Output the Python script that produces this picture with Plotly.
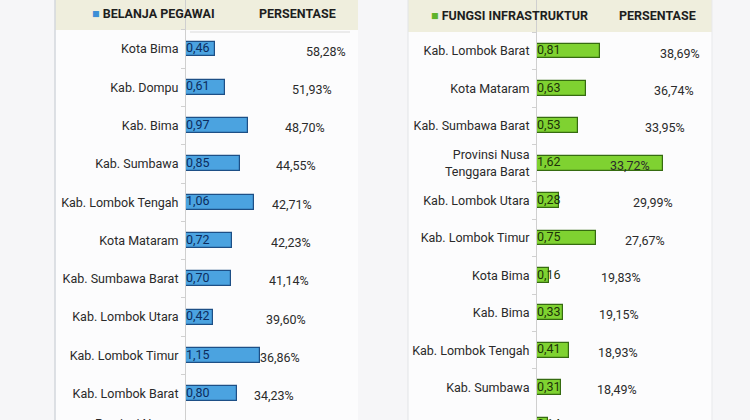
import plotly.graph_objects as go

# ---------------- data ----------------
left_regions = ["Kota Bima", "Kab. Dompu", "Kab. Bima", "Kab. Sumbawa", "Kab. Lombok Tengah",
                "Kota Mataram", "Kab. Sumbawa Barat", "Kab. Lombok Utara", "Kab. Lombok Timur",
                "Kab. Lombok Barat", "Provinsi Nusa<br>Tenggara Barat"]
left_values = [0.46, 0.61, 0.97, 0.85, 1.06, 0.72, 0.70, 0.42, 1.15, 0.80, None]
left_pct = [58.28, 51.93, 48.70, 44.55, 42.71, 42.23, 41.14, 39.60, 36.86, 34.23, None]

right_regions = ["Kab. Lombok Barat", "Kota Mataram", "Kab. Sumbawa Barat",
                 "Provinsi Nusa<br>Tenggara Barat", "Kab. Lombok Utara", "Kab. Lombok Timur",
                 "Kota Bima", "Kab. Bima", "Kab. Lombok Tengah", "Kab. Sumbawa", "Kab. Dompu"]
right_values = [0.81, 0.63, 0.53, 1.62, 0.28, 0.75, 0.16, 0.33, 0.41, 0.31, 0.14]
right_pct = [38.69, 36.74, 33.95, 33.72, 29.99, 27.67, 19.83, 19.15, 18.93, 18.49, 14.51]

left_title = "BELANJA PEGAWAI"
right_title = "FUNGSI INFRASTRUKTUR"
pct_header = "PERSENTASE"

# ---------------- layout helpers ----------------
W, H = 750, 420
FONT = "Roboto"
LABEL_FONT = dict(family=FONT, size=12.5, color="#2a2a2a")


def fx(p):
    return p / W


def fy(p):
    return 1 - p / H


def fmt(v):
    return f"{v:.2f}".replace(".", ",")


# pixel geometry of the two panels
L_axis, L_right, L_ppu, L_row0, L_step = 186, 358, 64.0, 49, 38.3
R_axis, R_right, R_ppu, R_row0, R_step = 537, 712, 78.0, 51, 37.4
L_pct0, L_pctppu = 222, 2.16
R_pct0, R_pctppu = 581, 3.12

fig = go.Figure()

# bars
fig.add_trace(go.Bar(
    y=left_regions, x=left_values, orientation="h", xaxis="x", yaxis="y",
    width=0.39, marker=dict(color="#4ba3e0", line=dict(color="#1d4f86", width=1.2)),
    hoverinfo="skip", showlegend=False))
fig.add_trace(go.Bar(
    y=right_regions, x=right_values, orientation="h", xaxis="x2", yaxis="y2",
    width=0.4, marker=dict(color="#7fd231", line=dict(color="#356b10", width=1.2)),
    hoverinfo="skip", showlegend=False))

# value labels inside bars
lv = [(r, fmt(v)) for r, v in zip(left_regions, left_values) if v is not None]
fig.add_trace(go.Scatter(
    y=[a for a, _ in lv], x=[0] * len(lv), text=[b for _, b in lv], mode="text",
    textposition="middle right", xaxis="x", yaxis="y",
    textfont=dict(family=FONT, size=12.5, color="#0c2c5e"), hoverinfo="skip", showlegend=False))
rv = [(r, fmt(v)) for r, v in zip(right_regions, right_values) if v is not None]
fig.add_trace(go.Scatter(
    y=[a for a, _ in rv], x=[0] * len(rv), text=[b for _, b in rv], mode="text",
    textposition="middle right", xaxis="x2", yaxis="y2",
    textfont=dict(family=FONT, size=12.5, color="#1d3308"), hoverinfo="skip", showlegend=False))

# percentage labels (hidden percent axes)
pct_shift = {("R", "Provinsi Nusa<br>Tenggara Barat"): -34}
annotations = []
for side, regs, pcts, xr, yr in (("L", left_regions, left_pct, "x3", "y"),
                                  ("R", right_regions, right_pct, "x4", "y2")):
    for r, p in zip(regs, pcts):
        if p is None:
            continue
        annotations.append(dict(
            x=p, y=r, xref=xr, yref=yr, xanchor="right", yanchor="middle",
            text=f"{p:.2f}".replace(".", ",") + "%", showarrow=False,
            xshift=pct_shift.get((side, r), 0), yshift=-2,
            font=dict(family=FONT, size=12.5, color="#2b2b2b")))

# category labels of rows that fall just below the visible window (cut at the bottom edge)
for regs, axis_px, row0, step in ((left_regions, L_axis, L_row0, L_step),
                                  (right_regions, R_axis, R_row0, R_step)):
    for i, r in enumerate(regs):
        cy = row0 + i * step
        if cy > H - 4:
            annotations.append(dict(
                x=fx(axis_px - 8), y=fy(cy), xref="paper", yref="paper",
                xanchor="right", yanchor="middle", align="center",
                text=r, showarrow=False, font=LABEL_FONT))

# headers
annotations += [
    dict(x=fx(90), y=fy(14), xref="paper", yref="paper", xanchor="left", yanchor="middle",
         text='<span style="color:#3d8fd6">■</span> <b>' + left_title + '</b>', showarrow=False,
         font=dict(family=FONT, size=12.5, color="#1e1e1e")),
    dict(x=fx(257), y=fy(14), xref="paper", yref="paper", xanchor="left", yanchor="middle",
         text="<b>" + pct_header + "</b>", showarrow=False,
         font=dict(family=FONT, size=12.5, color="#1e1e1e")),
    dict(x=fx(429), y=fy(16), xref="paper", yref="paper", xanchor="left", yanchor="middle",
         text='<span style="color:#5fb32a">■</span> <b>' + right_title + '</b>', showarrow=False,
         font=dict(family=FONT, size=12.5, color="#1e1e1e")),
    dict(x=fx(617), y=fy(16), xref="paper", yref="paper", xanchor="left", yanchor="middle",
         text="<b>" + pct_header + "</b>", showarrow=False,
         font=dict(family=FONT, size=12.5, color="#1e1e1e")),
]

shapes = [
    # panels
    dict(type="rect", xref="paper", yref="paper", x0=fx(55), x1=fx(358), y0=0, y1=1,
         fillcolor="#fcfcfd", line=dict(width=0), layer="below"),
    dict(type="rect", xref="paper", yref="paper", x0=fx(408), x1=fx(712), y0=0, y1=1,
         fillcolor="#fcfcfd", line=dict(width=0), layer="below"),
    # header bands
    dict(type="rect", xref="paper", yref="paper", x0=fx(55), x1=fx(358), y0=fy(30), y1=1,
         fillcolor="#efeedd", line=dict(width=0), layer="below"),
    dict(type="rect", xref="paper", yref="paper", x0=fx(408), x1=fx(712), y0=fy(32), y1=1,
         fillcolor="#efeedd", line=dict(width=0), layer="below"),
    # panel borders
    dict(type="line", xref="paper", yref="paper", x0=fx(55), x1=fx(55), y0=0, y1=1,
         line=dict(color="#d3d7dc", width=1.5), layer="below"),
    dict(type="line", xref="paper", yref="paper", x0=fx(408), x1=fx(408), y0=0, y1=1,
         line=dict(color="#e2e4e7", width=1), layer="below"),
    dict(type="line", xref="paper", yref="paper", x0=fx(712), x1=fx(712), y0=0, y1=1,
         line=dict(color="#e8e9eb", width=1), layer="below"),
    dict(type="line", xref="paper", yref="paper", x0=fx(190), x1=fx(350), y0=fy(32), y1=fy(32),
         line=dict(color="#dadada", width=1), layer="below"),
]

yax_common = dict(type="category", showline=True, linecolor="#cfcfcf", linewidth=1,
                  ticks="outside", tickson="boundaries", ticklen=4, tickcolor="#d0d0d0",
                  showgrid=False, zeroline=False, ticklabelstandoff=4,
                  tickfont=LABEL_FONT, fixedrange=True)

fig.update_layout(
    width=W, height=H, margin=dict(l=0, r=0, t=0, b=0),
    paper_bgcolor="#f6f6f8", plot_bgcolor="rgba(0,0,0,0)",
    font=dict(family=FONT), bargap=0,
    xaxis=dict(domain=[fx(L_axis), fx(L_right)], range=[0, (L_right - L_axis) / L_ppu],
               visible=False, anchor="y"),
    yaxis=dict(domain=[0, 1], anchor="x",
               range=[(H - L_row0) / L_step, -L_row0 / L_step], **yax_common),
    xaxis2=dict(domain=[fx(R_axis), fx(R_right)], range=[0, (R_right - R_axis) / R_ppu],
                visible=False, anchor="y2"),
    yaxis2=dict(domain=[0, 1], anchor="x2",
                range=[(H - R_row0) / R_step, -R_row0 / R_step], **yax_common),
    xaxis3=dict(domain=[fx(L_axis), fx(L_right)], overlaying="x", anchor="y", visible=False,
                range=[(L_axis - L_pct0) / L_pctppu, (L_right - L_pct0) / L_pctppu]),
    xaxis4=dict(domain=[fx(R_axis), fx(R_right)], overlaying="x2", anchor="y2", visible=False,
                range=[(R_axis - R_pct0) / R_pctppu, (R_right - R_pct0) / R_pctppu]),
    annotations=annotations, shapes=shapes,
)

fig.write_html("out.html")
